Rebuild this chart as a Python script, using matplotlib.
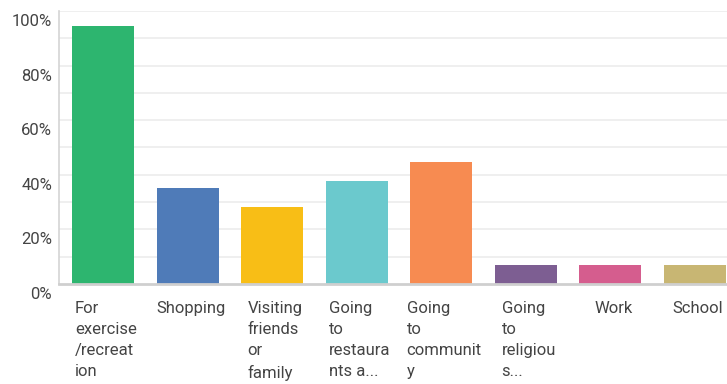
import matplotlib
matplotlib.use("Agg")
import matplotlib.pyplot as plt
import matplotlib.transforms as mtransforms

# survey answers and share of respondents (%)
categories = [
    "For\nexercise\n/recreat\nion",
    "Shopping",
    "Visiting\nfriends\nor\nfamily",
    "Going\nto\nrestaura\nnts a...",
    "Going\nto\ncommunit\ny",
    "Going\nto\nreligiou\ns...",
    "Work",
    "School",
]
values = [94.5, 35.2, 28.2, 37.7, 44.7, 7.0, 7.0, 7.0]
colors = ["#2db56f", "#4f7bb8", "#f8be16", "#6bc9cd", "#f78b51",
          "#7d5e92", "#d55d8e", "#c8b673"]
yticks = [0, 20, 40, 60, 80, 100]
ytick_labels = ["0%", "20%", "40%", "60%", "80%", "100%"]

plt.rcParams["font.family"] = ["Roboto", "DejaVu Sans"]
text_color = "#444444"

fig = plt.figure(figsize=(7.27, 3.84), dpi=100)
ax = fig.add_axes([0.0812, 0.2604, 0.9188, 0.711])

x = range(len(values))
ax.bar(x, values, width=0.733, color=colors, zorder=3)

ax.set_xlim(-0.52, 7.38)
ax.set_ylim(0, 100)

# light grid every 10%
for g in range(10, 101, 10):
    ax.axhline(g, color="#ececec", lw=1.2, zorder=1)

ax.set_yticks(yticks)
ax.set_yticklabels(ytick_labels, fontsize=12, color=text_color)
ax.tick_params(axis="y", length=0, pad=5)
# percent labels sit a little below their grid line
shift = mtransforms.ScaledTranslation(0, -9 / 100, fig.dpi_scale_trans)
for lab in ax.get_yticklabels():
    lab.set_transform(lab.get_transform() + shift)

ax.set_xticks(list(x))
ax.set_xticklabels(categories, fontsize=12, color=text_color,
                   multialignment="left", linespacing=1.52)
ax.tick_params(axis="x", length=0, pad=12)
# category labels nudged slightly right of the bar centre
nudge = mtransforms.ScaledTranslation(3 / 100, 0, fig.dpi_scale_trans)
for lab in ax.get_xticklabels():
    lab.set_transform(lab.get_transform() + nudge)

for side in ["top", "right"]:
    ax.spines[side].set_visible(False)
ax.spines["left"].set_color("#d4d4d4")
ax.spines["left"].set_linewidth(1.2)
ax.spines["bottom"].set_color("#cfcfcf")
ax.spines["bottom"].set_linewidth(2)
ax.spines["bottom"].set_zorder(4)

fig.savefig("out.png", dpi=100)
